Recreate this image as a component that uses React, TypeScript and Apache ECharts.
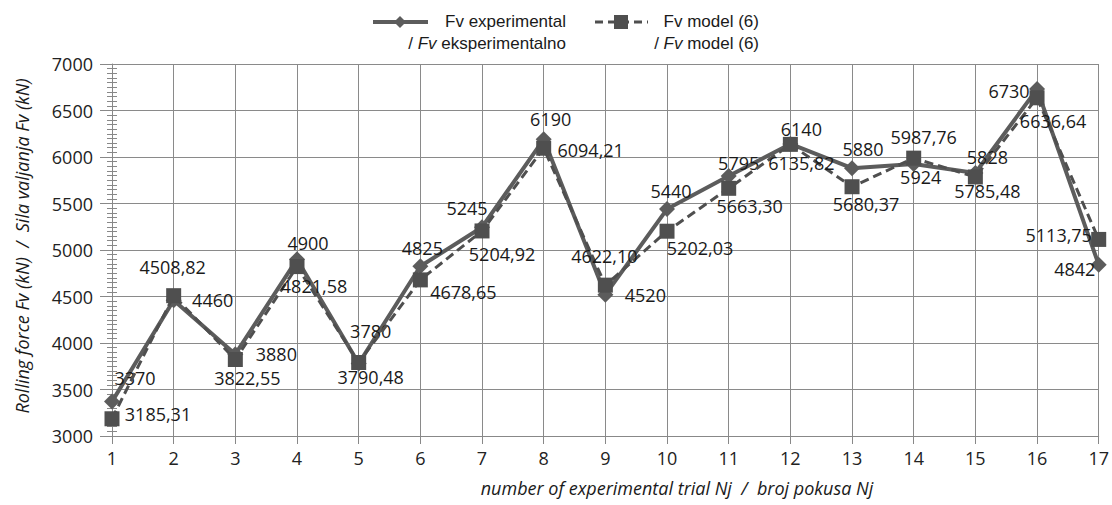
import React, { useEffect, useRef } from "react";
import * as echarts from "echarts";

const categories = ["1", "2", "3", "4", "5", "6", "7", "8", "9", "10", "11", "12", "13", "14", "15", "16", "17"];
const experimental = [3370, 4460, 3880, 4900, 3780, 4825, 5245, 6190, 4520, 5440, 5795, 6140, 5880, 5924, 5828, 6730, 4842];
const model = [3185.31, 4508.82, 3822.55, 4821.58, 3790.48, 4678.65, 5204.92, 6094.21, 4622.10, 5202.03, 5663.30, 6135.82, 5680.37, 5987.76, 5785.48, 6636.64, 5113.75];
const expLabelOffsets = [[23, -24], [39, 0], [41, 0], [11, -16], [12, -32], [2, -18], [-15, -19], [7, -20], [40, 0], [4, -18], [10, -13], [11, -15], [11, -19], [7, 13], [12, -16], [-28, 2], [-24, 4]];
const modelLabelOffsets = [[46, -5], [-1, -29], [12, 18], [17, 19], [12, 15], [43, 12], [20, 23], [47, 2], [-1, -29], [33, 17], [21, 18], [11, 19], [14, 17], [10, -21], [12, 14], [16, 23], [-40, -4]];

const LBL_FONT = "'Open Sans', sans-serif";
const LEG_FONT = "'Liberation Sans', Arial, sans-serif";
const EXP_COLOR = "#5c5c5c";
const MOD_COLOR = "#4f4f4f";

export default function App() {
  const ref = useRef<HTMLDivElement>(null);
  useEffect(() => {
    if (!ref.current) return;
    const chart = echarts.init(ref.current, undefined, { renderer: "svg" });
    const labelBase = {
      show: true,
      position: "inside",
      color: "#1a1a1a",
      fontSize: 18,
      fontFamily: LBL_FONT,
    };
    const option: any = {
      animation: false,
      backgroundColor: "#ffffff",
      grid: { left: 112, right: 12, top: 64, bottom: 69, containLabel: false },
      xAxis: {
        type: "category",
        data: categories,
        boundaryGap: false,
        axisLine: { show: true, lineStyle: { color: "#888", width: 1 } },
        axisTick: { show: true, length: 8, lineStyle: { color: "#888" } },
        axisLabel: { color: "#222", fontSize: 18, fontFamily: LBL_FONT, margin: 13 },
        splitLine: { show: true, showMinLine: true, showMaxLine: true, lineStyle: { color: "#8a8a8a", width: 1 } },
      },
      yAxis: [
        {
          type: "value",
          min: 3000,
          max: 7000,
          interval: 500,
          axisLine: { show: true, lineStyle: { color: "#888", width: 1 } },
          axisTick: { show: true, length: 12, lineStyle: { color: "#888" } },
          minorTick: { show: true, splitNumber: 10, length: 5, lineStyle: { color: "#888" } },
          axisLabel: { color: "#222", fontSize: 18, fontFamily: LBL_FONT, margin: 19, formatter: (v: number) => String(v) },
          splitLine: { show: true, lineStyle: { color: "#8a8a8a", width: 1 } },
        },
        {
          type: "value",
          min: 3000,
          max: 7000,
          interval: 500,
          position: "left",
          axisLine: { show: false },
          axisTick: { show: false, inside: true },
          minorTick: { show: true, splitNumber: 10, length: 5, lineStyle: { color: "#888" } },
          axisLabel: { show: false },
          splitLine: { show: false },
        },
      ],
      series: [
        {
          name: "exp",
          type: "line",
          data: experimental.map((v, i) => ({
            value: v,
            label: { offset: expLabelOffsets[i] },
          })),
          symbol: "diamond",
          symbolSize: 16,
          lineStyle: { color: EXP_COLOR, width: 4 },
          itemStyle: { color: EXP_COLOR },
          label: { ...labelBase, formatter: (p: any) => String(p.value) },
          z: 2,
        },
        {
          name: "model",
          type: "line",
          data: model.map((v, i) => ({
            value: v,
            label: { offset: modelLabelOffsets[i] },
          })),
          symbol: "rect",
          symbolSize: 15,
          lineStyle: { color: MOD_COLOR, width: 3, type: [9, 5] },
          itemStyle: { color: MOD_COLOR },
          label: { ...labelBase, formatter: (p: any) => Number(p.value).toFixed(2).replace(".", ",") },
          z: 3,
        },
      ],
      graphic: [
        // legend item 1
        { type: "line", shape: { x1: 373, y1: 22, x2: 428, y2: 22 }, style: { stroke: EXP_COLOR, lineWidth: 4 } },
        { type: "polygon", shape: { points: [[400, 16], [406, 22], [400, 28], [394, 22]] }, style: { fill: EXP_COLOR } },
        {
          type: "text", x: 566, y: 21,
          style: { text: "Fv experimental", align: "right", verticalAlign: "middle", font: "17px " + LEG_FONT, fill: "#1a1a1a" },
        },
        {
          type: "text", x: 566, y: 43,
          style: {
            text: "{n|/ }{i|Fv}{n| eksperimentalno}", align: "right", verticalAlign: "middle",
            rich: {
              n: { fontSize: 17, fontFamily: LEG_FONT, fill: "#1a1a1a", color: "#1a1a1a" },
              i: { fontSize: 17, fontStyle: "italic", fontFamily: LEG_FONT, fill: "#1a1a1a", color: "#1a1a1a" },
            },
          },
        },
        // legend item 2
        { type: "line", shape: { x1: 595, y1: 22, x2: 648, y2: 22 }, style: { stroke: MOD_COLOR, lineWidth: 3, lineDash: [8, 5] } },
        { type: "rect", shape: { x: 614, y: 15, width: 14, height: 14 }, style: { fill: MOD_COLOR } },
        {
          type: "text", x: 759, y: 21,
          style: { text: "Fv model (6)", align: "right", verticalAlign: "middle", font: "17px " + LEG_FONT, fill: "#1a1a1a" },
        },
        {
          type: "text", x: 759, y: 43,
          style: {
            text: "{n|/ }{i|Fv}{n| model (6)}", align: "right", verticalAlign: "middle",
            rich: {
              n: { fontSize: 17, fontFamily: LEG_FONT, fill: "#1a1a1a", color: "#1a1a1a" },
              i: { fontSize: 17, fontStyle: "italic", fontFamily: LEG_FONT, fill: "#1a1a1a", color: "#1a1a1a" },
            },
          },
        },
        // axis names
        {
          type: "text", x: 22, y: 246, rotation: Math.PI / 2,
          style: {
            text: "Rolling force Fv (kN)  /  Sila valjanja Fv (kN)", align: "center", verticalAlign: "middle",
            font: "italic 18px 'Open Sans', sans-serif", fill: "#1a1a1a",
          },
        },
        {
          type: "text", x: 677, y: 488,
          style: {
            text: "number of experimental trial Nj  /  broj pokusa Nj", align: "center", verticalAlign: "middle",
            font: "italic 18px 'Open Sans', sans-serif", fill: "#1a1a1a",
          },
        },
      ],
    };
    chart.setOption(option);
    return () => chart.dispose();
  }, []);
  return <div ref={ref} style={{ position: "fixed", left: 0, top: 0, width: 1112, height: 505 }} />;
}
